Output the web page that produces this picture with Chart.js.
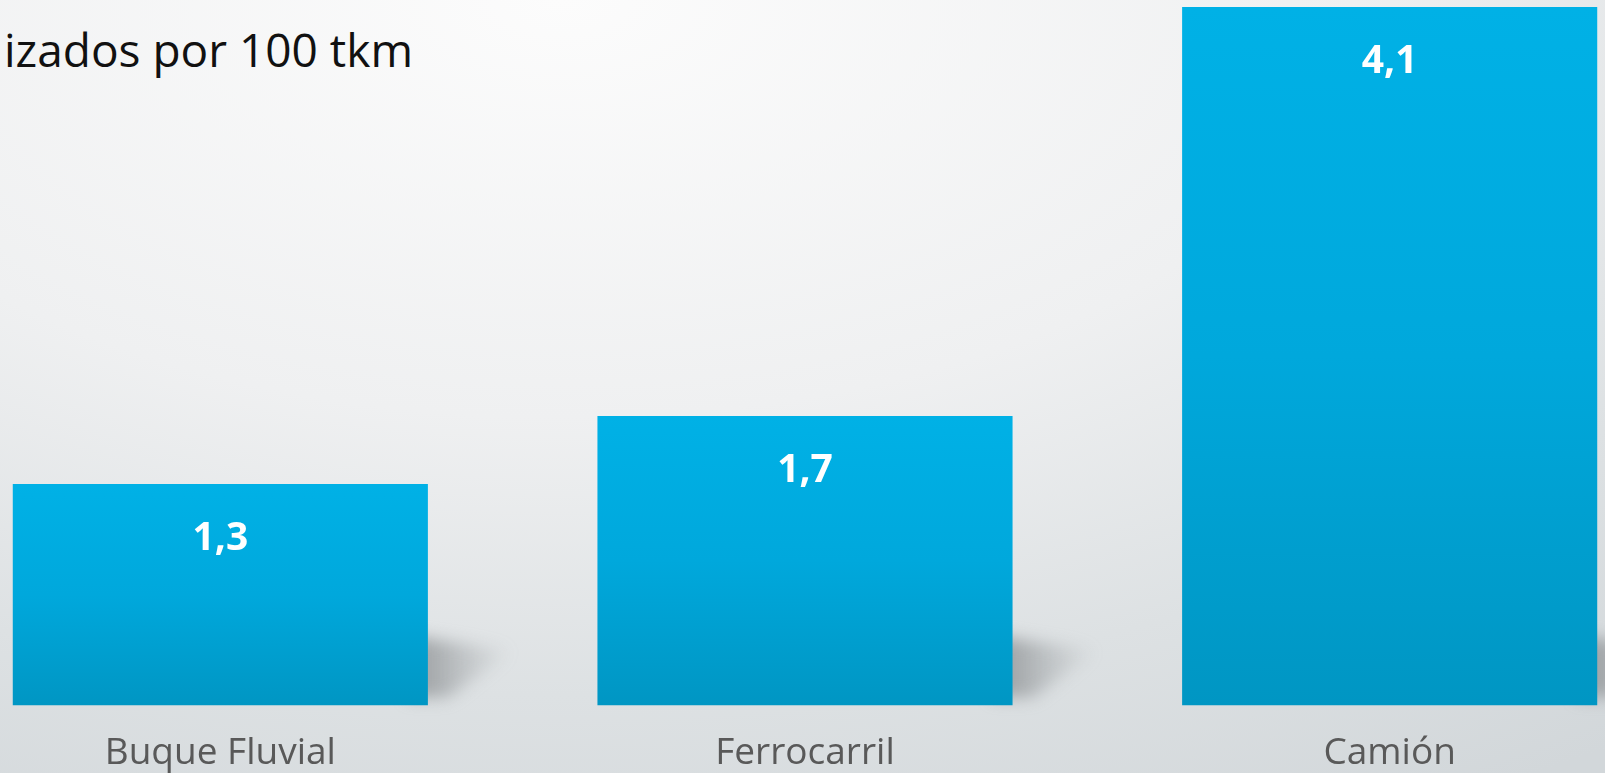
<!DOCTYPE html>
<html>
<head>
<meta charset="utf-8">
<script src="https://cdn.jsdelivr.net/npm/chart.js@4"></script>
<style>
    html, body { margin: 0; padding: 0; width: 1605px; height: 773px; overflow: hidden; }
    body {
        position: relative;
        background: radial-gradient(ellipse 110% 120% at 35% 0%, #fcfcfc 0%, #eff0f1 45%, #dde1e3 75%, #d2d7da 100%);
        font-family: 'Open Sans', sans-serif;
    }
    #titulo {
        position: absolute; left: 4px; top: 26px;
        font-size: 46px; line-height: 1; color: #111; white-space: nowrap;
    }
    #wrap { position: absolute; left: -72px; top: 0; width: 1754px; height: 794px; }
</style>
</head>
<body>
<div id="titulo">izados por 100 tkm</div>
<div id="wrap"><canvas id="chart"></canvas></div>
<script>
const categorias = ['Buque Fluvial', 'Ferrocarril', 'Camión'];
const valores = [1.3, 1.7, 4.1];
const ejeMax = 4.1;

function formatoComa(v) {
    return v.toFixed(1).replace('.', ',');
}

function barGradient(context) {
    const chart = context.chart;
    const y = chart.scales && chart.scales.y;
    if (!y || !chart.chartArea) return '#00a6da';
    const top = y.getPixelForValue(context.raw);
    const bottom = y.getPixelForValue(0);
    const g = chart.ctx.createLinearGradient(0, top, 0, bottom);
    g.addColorStop(0, '#00b1e6');
    g.addColorStop(0.5, '#00a8dc');
    g.addColorStop(1, '#0096c3');
    return g;
}

// sombra diagonal a la derecha de cada barra
const sombras = {
    id: 'sombras',
    beforeDatasetsDraw(chart) {
        const ctx = chart.ctx;
        chart.getDatasetMeta(0).data.forEach(bar => {
            const right = bar.x + bar.width / 2;
            const bottom = bar.base;
            ctx.save();
            ctx.filter = 'blur(8px)';
            const g = ctx.createLinearGradient(right, 0, right + 85, 0);
            g.addColorStop(0, 'rgba(125,129,132,0.6)');
            g.addColorStop(1, 'rgba(150,154,157,0)');
            ctx.fillStyle = g;
            ctx.beginPath();
            ctx.moveTo(right - 20, bottom - 8);
            ctx.lineTo(right - 20, bottom - 70);
            ctx.lineTo(right + 85, bottom - 55);
            ctx.lineTo(right + 20, bottom - 8);
            ctx.closePath();
            ctx.fill();
            ctx.restore();
        });
    }
};

const etiquetas = {
    id: 'etiquetas',
    afterDatasetsDraw(chart) {
        const ctx = chart.ctx;
        ctx.save();
        ctx.fillStyle = '#ffffff';
        ctx.font = 'bold 39px "Open Sans", sans-serif';
        ctx.textAlign = 'center';
        ctx.textBaseline = 'middle';
        chart.getDatasetMeta(0).data.forEach((bar, i) => {
            ctx.fillText(formatoComa(valores[i]), bar.x, bar.y + 55);
        });
        ctx.restore();
    }
};

new Chart(document.getElementById('chart'), {
    type: 'bar',
    data: {
        labels: categorias,
        datasets: [{
            data: valores,
            backgroundColor: barGradient,
            borderWidth: 0,
            barPercentage: 0.71,
            categoryPercentage: 1
        }]
    },
    options: {
        responsive: true,
        maintainAspectRatio: false,
        animation: false,
        layout: { padding: { top: 7, left: 0, right: 0, bottom: 0 } },
        plugins: { legend: { display: false }, tooltip: { enabled: false } },
        scales: {
            x: {
                grid: { display: false },
                border: { display: false },
                ticks: {
                    color: '#595959',
                    font: { family: 'Open Sans', size: 37 },
                    padding: 18,
                    autoSkip: false,
                    maxRotation: 0
                }
            },
            y: { display: false, min: 0, max: ejeMax }
        }
    },
    plugins: [sombras, etiquetas]
});
</script>
</body>
</html>
